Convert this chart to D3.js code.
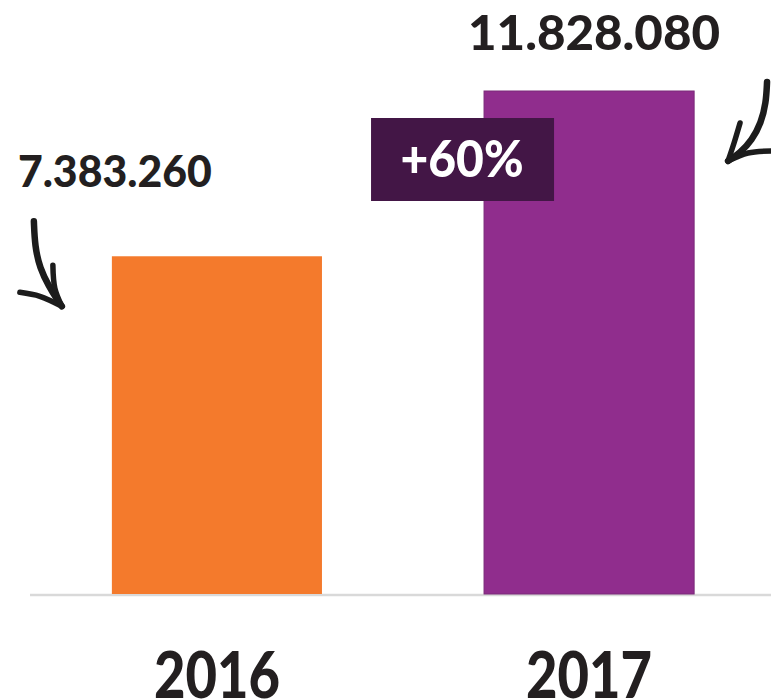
<!DOCTYPE html>
<html>
<head>
<meta charset="utf-8">
<script src="https://cdn.jsdelivr.net/npm/d3@7.9.0/dist/d3.min.js"></script>
<style>
  html, body { margin: 0; padding: 0; background: #fff; }
  svg { display: block; }
  text { font-family: Lato, "Open Sans", sans-serif; font-weight: 900; }
</style>
</head>
<body>
<div id="chart"></div>
<script>
// data
const years = ['2016', '2017'];
const visitors = [7383260, 11828080];
const valueLabels = ['7.383.260', '11.828.080'];
const growthLabel = '+60%';
const barColors = ['#f47a2c', '#902d8d'];

const width = 771;
const height = 699;
const margin = { top: 91, right: 0, bottom: 105, left: 30 };

const svg = d3.select('#chart')
  .append('svg')
  .attr('width', width)
  .attr('height', height);

const xScale = d3.scaleBand()
  .domain(years)
  .range([margin.left, 776])
  .paddingInner(0.4355)
  .paddingOuter(0.22);

// the original value axis does not start at zero
const yScale = d3.scaleLinear()
  .domain([-1700000, d3.max(visitors)])
  .range([height - margin.bottom, margin.top]);

const rows = years.map((y, i) => ({ year: y, value: visitors[i], label: valueLabels[i], color: barColors[i] }));

// baseline
svg.append('line')
  .attr('x1', margin.left)
  .attr('x2', width)
  .attr('y1', yScale.range()[0] + 1)
  .attr('y2', yScale.range()[0] + 1)
  .attr('stroke', '#d9d9d9')
  .attr('stroke-width', 2.5);

// bars
svg.append('g')
  .selectAll('rect')
  .data(rows)
  .join('rect')
  .attr('x', d => xScale(d.year))
  .attr('y', d => yScale(d.value))
  .attr('width', xScale.bandwidth())
  .attr('height', d => yScale.range()[0] - yScale(d.value))
  .attr('fill', d => d.color)
  .attr('stroke', (d, i) => i === 1 ? '#7b2a79' : 'none')
  .attr('stroke-width', 1);

// year labels (bottom is cropped in the original too)
svg.append('g')
  .selectAll('text')
  .data(rows)
  .join('text')
  .attr('x', d => xScale(d.year) + xScale.bandwidth() / 2)
  .attr('y', 698)
  .attr('text-anchor', 'middle')
  .attr('font-size', 64)
  .attr('fill', '#231f20')
  .attr('textLength', 126)
  .attr('lengthAdjust', 'spacingAndGlyphs')
  .text(d => d.year);

// value labels
const b0 = rows[0], b1 = rows[1];
svg.append('text')
  .attr('x', xScale(b0.year) - 94)
  .attr('y', yScale(b0.value) - 69)
  .attr('font-size', 44)
  .attr('fill', '#231f20')
  .attr('textLength', 194)
  .attr('lengthAdjust', 'spacingAndGlyphs')
  .text(b0.label);

svg.append('text')
  .attr('x', xScale(b1.year) - 16)
  .attr('y', yScale(b1.value) - 41)
  .attr('font-size', 48)
  .attr('fill', '#231f20')
  .attr('textLength', 252)
  .attr('lengthAdjust', 'spacingAndGlyphs')
  .text(b1.label);

// growth badge
const badge = svg.append('g')
  .attr('transform', `translate(${xScale(b1.year) - 113}, ${yScale(b1.value) + 27})`);
badge.append('rect')
  .attr('width', 183)
  .attr('height', 83)
  .attr('fill', '#431646');
badge.append('text')
  .attr('x', 91)
  .attr('y', 59)
  .attr('text-anchor', 'middle')
  .attr('font-size', 52)
  .attr('fill', '#fff')
  .attr('textLength', 123)
  .attr('lengthAdjust', 'spacingAndGlyphs')
  .text(growthLabel);

// hand-drawn arrows
const curve = d3.line().curve(d3.curveBasis);
const straight = d3.line().curve(d3.curveCatmullRom);

function arrow(x, y, shaft, wings) {
  const g = svg.append('g')
    .attr('transform', `translate(${x}, ${y})`)
    .attr('fill', 'none')
    .attr('stroke', '#1c1c1c')
    .attr('stroke-linecap', 'round')
    .attr('stroke-linejoin', 'round');
  g.append('path').attr('d', curve(shaft)).attr('stroke-width', 6.5);
  wings.forEach(w => g.append('path').attr('d', straight(w)).attr('stroke-width', 5.5));
}

// left arrow, tip near the orange bar's label
arrow(xScale(b0.year) - 50, yScale(b0.value) + 50,
  [[-28, -85], [-27, -60], [-22, -38], [-13, -20], [-5, -7], [0, 0]],
  [[[-42, -14], [-22, -10], [0, 0]], [[-9, -41], [-7, -18], [0, 0]]]);

// right arrow, tip near the purple bar
arrow(xScale(b1.year) + 244, yScale(b1.value) + 70,
  [[39, -79], [38, -58], [33, -38], [24, -21], [12, -8], [0, 0]],
  [[[12, -38], [6, -18], [0, 0]], [[0, 0], [20, -8], [43, -10]]]);
</script>
</body>
</html>
